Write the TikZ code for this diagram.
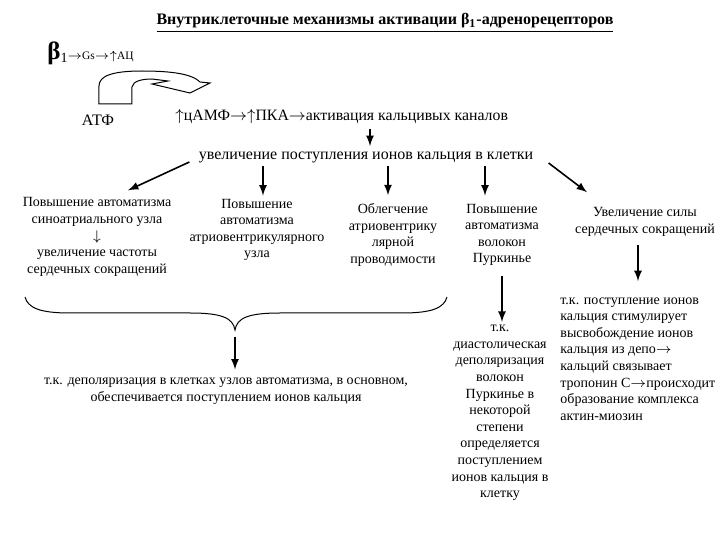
\documentclass[tikz,border=0pt]{standalone}
\usepackage{fontspec}
\setmainfont{Liberation Serif}
\usetikzlibrary{calc}
\newcommand{\ra}{$\rightarrow$}
\newcommand{\ua}{$\uparrow$}
\newcommand{\da}{$\downarrow$}

\begin{document}
\begin{tikzpicture}[x=0.5pt, y=-0.5pt,
            txt/.style={inner sep=0pt, align=center, font=\fontsize{7}{8.3}\selectfont},
            txtLeft/.style={inner sep=0pt, align=left, font=\fontsize{7}{8.3}\selectfont},
            arr/.style={thick, -latex}]

            \useasboundingbox (0,0) rectangle (720,540);

            % heading
            \node[inner sep=0pt, font=\fontsize{8}{9}\selectfont\bfseries] (T) at (385,23)
                {\underline{Внутриклеточные механизмы активации β\textsubscript{1}-адренорецепторов}};

            \node[inner sep=0pt, anchor=base west] (B) at (47,60)
                {{\fontsize{12.5}{12}\selectfont\bfseries β}{\fontsize{5.7}{6}\selectfont\raisebox{-1.5pt}{\fontsize{7}{7}\selectfont 1}\ra Gs\ra\ua АЦ}};
            \node[txt, font=\fontsize{8}{8.3}\selectfont] (ATP) at (98,120) {АТФ};
            \node[txt, anchor=west, font=\fontsize{7.9}{8.3}\selectfont] (CAMP) at (175,117)
                {\ua цАМФ\ra\ua ПКА\ra активация кальцивых каналов};

            % curved block arrow
            \draw[line width=0.5pt] (99,104) -- (132,104) -- (132,87)
                .. controls (133,81) and (142,79) .. (152,79) -- (168,81) -- (152,84)
                -- (190,93) -- (210,83) -- (200,82)
                .. controls (192,74) and (172,71) .. (142,71)
                .. controls (112,71) and (99,76) .. (99,86) -- cycle;

            \node[txt, font=\fontsize{8}{8.3}\selectfont] (CA) at (366,157)
                {увеличение поступления ионов кальция в клетки};

            \node[txt] (SA) at (97,237) {Повышение автоматизма\\синоатриального узла\\\da\\увеличение частоты\\сердечных сокращений};
            \node[txt] (AV) at (257,230) {Повышение\\автоматизма\\атриовентрикулярного\\узла};
            \node[txt] (AVC) at (393,235) {Облегчение\\атриовентрику\\лярной\\проводимости};
            \node[txt] (PF) at (502,235) {Повышение\\автоматизма\\волокон\\Пуркинье};
            \node[txt] (FS) at (645,222) {Увеличение силы\\сердечных сокращений};

            \node[txt] (DEP) at (226,391) {т.к. деполяризация в клетках узлов автоматизма, в основном,\\обеспечивается поступлением ионов кальция};
            \node[txt] (PD) at (500,413) {т.к.\\диастолическая\\деполяризация\\волокон\\Пуркинье в\\некоторой\\степени\\определяется\\поступлением\\ионов кальция в\\клетку};
            \node[txtLeft, anchor=west] (TR) at (560,359) {т.к. поступление ионов\\кальция стимулирует\\высвобождение ионов\\кальция из депо\ra\\кальций связывает\\тропонин С\ra происходит\\образование комплекса\\актин-миозин};

            % brace
            \draw[line width=0.5pt] (25,297) .. controls (28,308) and (40,313) .. (70,313) -- (190,313)
                .. controls (222,313) and (233,318) .. (235,330)
                .. controls (237,318) and (248,313) .. (280,313) -- (402,313)
                .. controls (432,313) and (444,308) .. (447,297);
            \coordinate (BR) at (235,337);

            \draw[arr] (CA.north |- CAMP.south) ++(4,4) -- ($(CA.north)+(4,-5)$);
            \draw[arr] ($(CA.west)+(-9,5)$) -- ($(SA.north)+(31,-7)$);
            \draw[arr] ($(CA.south)+(-103,3)$) -- ($(AV.north)+(6,-3)$);
            \draw[arr] ($(CA.south)+(22,3)$) -- ($(AVC.north)+(-5,-8)$);
            \draw[arr] ($(CA.south)+(119,3)$) -- ($(PF.north)+(-17,-8)$);
            \draw[arr] ($(CA.east)+(15,6)$) -- ($(FS.north)+(-58,-15)$);
            \draw[arr] ($(FS.south)+(-7,8)$) -- ($(TR.north west)+(78,-16)$);
            \draw[arr] ($(PF.south)+(0,10)$) -- ($(PD.north)+(2,-3)$);
            \draw[arr] (BR) -- ($(DEP.north)+(9,-8)$);

        \end{tikzpicture}
\end{document}
